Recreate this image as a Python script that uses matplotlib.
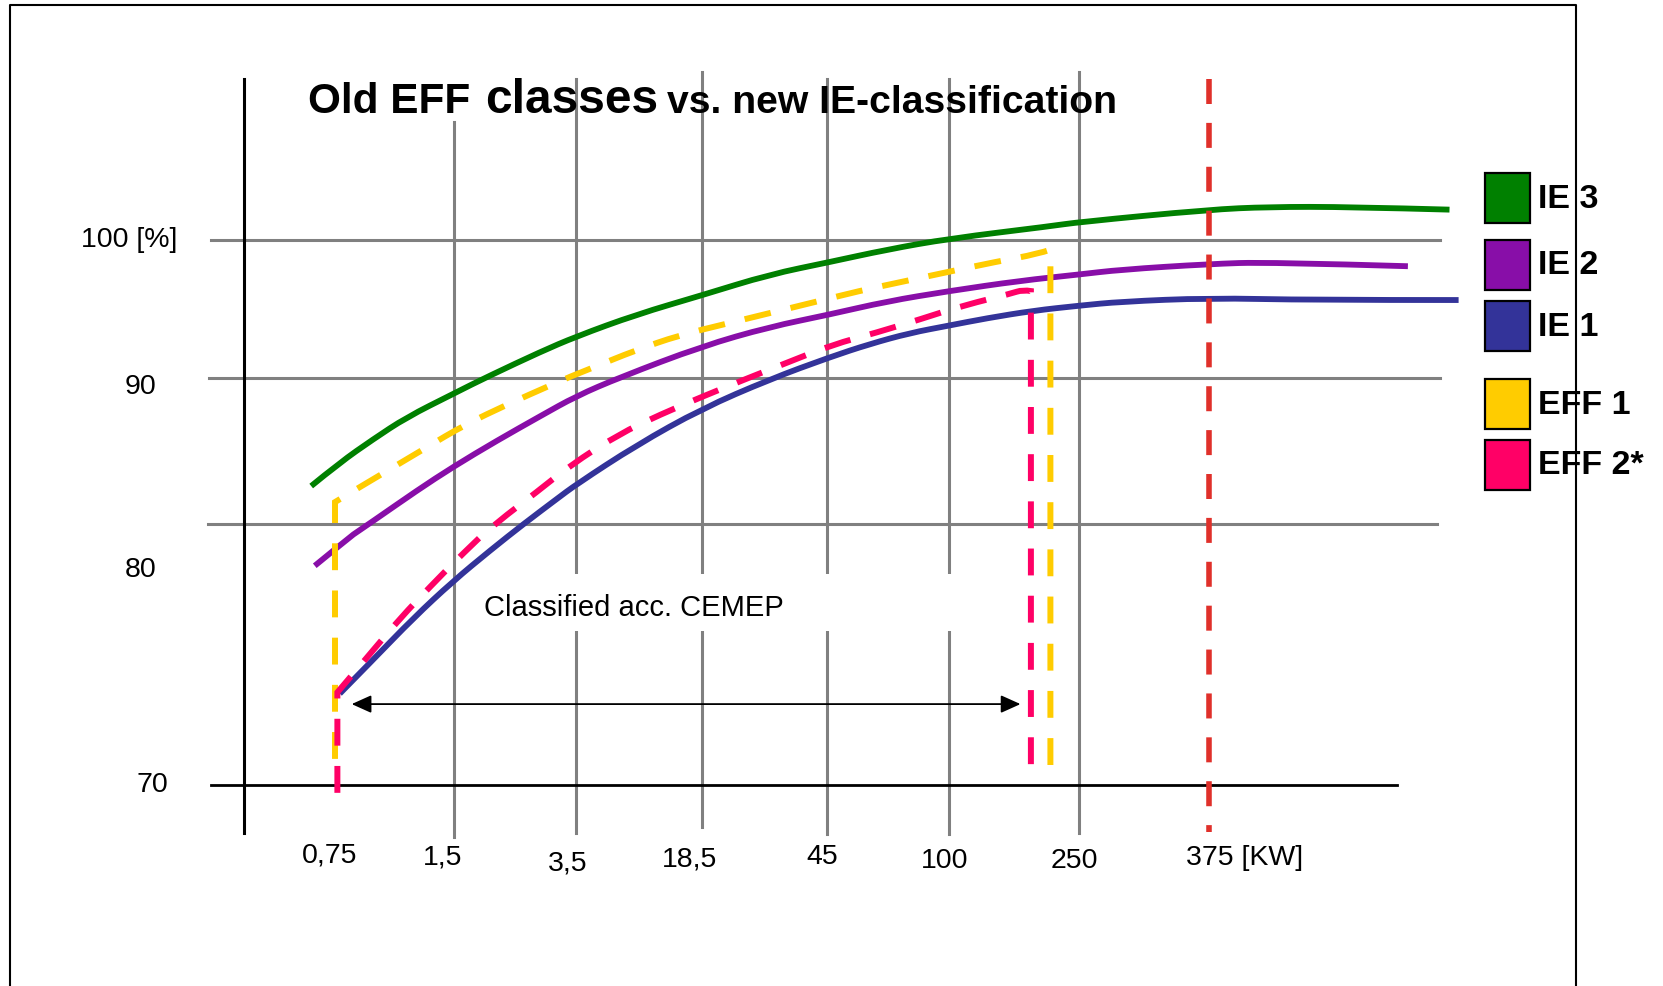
import numpy as np
import matplotlib
matplotlib.use("Agg")
import matplotlib.pyplot as plt
from matplotlib.patches import Rectangle, PathPatch
from matplotlib.lines import Line2D
from matplotlib.path import Path
from matplotlib.transforms import Affine2D

plt.rcParams['font.family'] = ['Liberation Sans', 'DejaVu Sans']

W, H = 1663, 987

# x axis: motor power classes (kW), drawn at category steps 0..7
kw_labels = ["0,75", "1,5", "3,5", "18,5", "45", "100", "250", "375 [KW]"]
eff_ticks = [100, 90, 80, 70]
eff_labels = ["100 [%]", "90", "80", "70"]

# efficiency curves, x in category steps, y in %
ie3_x = [-0.20, 0.04, 0.32, 0.60, 0.99, 1.30, 1.71, 2.0, 2.48, 3.0, 3.54, 4.02, 4.49,
         5.0, 5.78, 6.0, 7.0, 7.46, 8.09, 8.85]
ie3_y = [82.6, 84.2, 85.8, 87.3, 88.9, 90.2, 91.9, 93.0, 94.6, 96.0, 97.5, 98.4, 99.3,
         100.1, 101.0, 101.3, 102.2, 102.4, 102.4, 102.2]

ie2_x = [-0.17, -0.01, 0.32, 0.69, 0.99, 1.35, 1.71, 2.0, 2.35, 3.0, 3.54, 4.02, 4.49,
         5.0, 5.55, 6.0, 6.32, 7.0, 7.46, 8.53]
ie2_y = [78.4, 79.0, 80.2, 82.3, 83.9, 85.7, 87.4, 88.75, 90.05, 92.3, 93.7, 94.6, 95.55,
         96.3, 97.05, 97.5, 97.85, 98.26, 98.4, 98.1]

ie1_x = [0.04, 0.32, 0.66, 0.99, 1.30, 1.57, 1.84, 2.0, 2.48, 3.0, 3.54, 4.02, 4.35,
         4.68, 5.0, 5.29, 5.65, 6.0, 6.32, 7.0, 7.78, 8.92]
ie1_y = [73.5, 74.8, 76.4, 77.8, 79.0, 80.0, 81.7, 82.7, 85.4, 87.9, 89.9, 91.5, 92.46,
         93.26, 93.8, 94.33, 94.88, 95.24, 95.53, 95.8, 95.65, 95.65]

eff1_x = [0.0, 0.0, 0.10, 0.43, 0.76, 1.09, 1.44, 1.79, 2.12, 2.47, 2.82, 3.18, 3.54,
          3.90, 4.26, 4.63, 5.0, 5.35, 5.69, 5.78, 5.78]
eff1_y = [71.0, 81.5, 82.0, 83.6, 85.2, 86.8, 88.2, 89.5, 90.7, 92.0, 93.1, 93.9, 94.7,
          95.5, 96.3, 97.0, 97.7, 98.4, 99.0, 99.3, 70.2]

eff2_x = [0.02, 0.02, 0.29, 0.55, 0.80, 1.08, 1.35, 1.68, 1.95, 2.34, 2.67, 3.01, 3.35,
          3.70, 4.04, 4.41, 4.78, 5.13, 5.47, 5.57, 5.63, 5.63]
eff2_y = [69.7, 73.55, 75.0, 76.4, 77.6, 78.9, 80.1, 82.2, 84.0, 86.15, 87.5, 88.75, 89.93,
          91.18, 92.4, 93.3, 94.3, 95.3, 96.1, 96.4, 96.3, 70.3]

cemep_range = [0.14, 5.55]
cemep_level = 73.1

legend_names = ["IE 3", "IE 2", "IE 1", "EFF 1", "EFF 2*"]
legend_colors = ["#008000", "#880EA8", "#333399", "#FFCC00", "#FF0066"]

# ---- layout: piecewise scales so the schematic axis lines up
cat_idx = [-3, 0, 1, 2, 3, 4, 5, 6, 7, 11]
cat_px = [-22, 335, 454, 576, 702, 827, 949, 1079, 1209, 1729]
eff_nodes = [50, 70, 80, 90, 100, 125]
eff_up = [H - p for p in [1308, 786, 525, 379, 241, -104]]


def fx(v):
    return np.interp(v, cat_idx, cat_px)


def ix(p):
    return np.interp(p, cat_px, cat_idx)


def fy(v):
    return np.interp(v, eff_nodes, eff_up)


def iy(p):
    return np.interp(p, eff_up, eff_nodes)


def smooth_path(xs, ys, sharp=()):
    # rounded polyline: quadratic pieces through midpoints, corners kept where asked
    p = np.column_stack([xs, ys]).astype(float)
    n = len(p)
    verts, codes = [p[0]], [Path.MOVETO]
    at = p[0]
    for i in range(1, n - 1):
        if i in sharp:
            if not np.allclose(at, p[i]):
                verts.append(p[i])
                codes.append(Path.LINETO)
                at = p[i]
        else:
            if i + 1 in sharp or i + 1 == n - 1:
                end = p[i + 1]
            else:
                end = (p[i] + p[i + 1]) / 2
            verts += [p[i], end]
            codes += [Path.CURVE3, Path.CURVE3]
            at = end
    if not np.allclose(at, p[-1]):
        verts.append(p[-1])
        codes.append(Path.LINETO)
    return Path(verts, codes)


fig = plt.figure(figsize=(W / 100, H / 100), dpi=100)
ax = fig.add_axes([0, 0, 1, 1])
ax.set_xscale('function', functions=(fx, ix))
ax.set_yscale('function', functions=(fy, iy))
ax.set_xlim(ix(0), ix(W))
ax.set_ylim(iy(0), iy(H))
ax.set_axis_off()

# pixel coordinates, origin top-left
pix = Affine2D().scale(1 / W, -1 / H).translate(0, 1) + fig.transFigure

grey = "#808080"
# vertical grid lines at 1,5 ... 250
vtops = [123, 80, 73, 80, 80, 73]
vbots = [838, 834, 828, 835, 835, 834]
for i in range(1, 7):
    ax.axvline(i, ymin=1 - vbots[i - 1] / H, ymax=1 - vtops[i - 1] / H,
               color=grey, lw=2.2, zorder=1)
# horizontal grid lines
hspans = [(211, 1440), (209, 1440), (208, 1437)]
for val, (a, b) in zip(eff_ticks[:3], hspans):
    ax.axhline(val, xmin=a / W, xmax=b / W, color=grey, lw=2.2, zorder=1)
ax.axhline(eff_ticks[3], xmin=211 / W, xmax=1397 / W, color="black", lw=2.0, zorder=1.2)
ax.add_line(Line2D([244, 244], [80, 834], transform=pix, color="black", lw=2.2, zorder=1.2))

# white box behind the CEMEP note
ax.add_patch(Rectangle((462, 575), 538, 57, transform=pix, facecolor="white",
                       edgecolor="none", zorder=1.5))
ax.text(484, 608, "Classified acc. CEMEP", transform=pix, fontsize=21,
        ha="left", va="center", zorder=3)

lw = 4.2
for xs, ys, col in [(ie3_x, ie3_y, legend_colors[0]), (ie2_x, ie2_y, legend_colors[1]),
                    (ie1_x, ie1_y, legend_colors[2])]:
    ax.add_patch(PathPatch(smooth_path(xs, ys), fill=False, edgecolor=col, lw=lw,
                           capstyle="butt", joinstyle="round", zorder=2))
dash = (0, (4.5, 3.4))
ax.add_patch(PathPatch(smooth_path(eff1_x, eff1_y, sharp=(1, len(eff1_x) - 2)),
                       fill=False, edgecolor=legend_colors[3], lw=4.3, linestyle=dash,
                       capstyle="butt", joinstyle="miter", zorder=2.5))
ax.add_patch(PathPatch(smooth_path(eff2_x, eff2_y, sharp=(1, len(eff2_x) - 2)),
                       fill=False, edgecolor=legend_colors[4], lw=4.3, linestyle=dash,
                       capstyle="butt", joinstyle="miter", zorder=2.6))
# 375 kW limit
ax.axvline(7, ymin=1 - 80 / H, ymax=1 - 833 / H, color="#E0302A", lw=4.0,
           ls=dash, dash_capstyle="butt", zorder=2.8)

ax.annotate("", xy=(cemep_range[1], cemep_level), xytext=(cemep_range[0], cemep_level),
            arrowprops=dict(arrowstyle="<|-|>,head_length=1.0,head_width=0.45",
                            mutation_scale=12, lw=1.3, color="black",
                            shrinkA=0, shrinkB=0), zorder=3)

# tick labels
ylab_pos = [(128.8, 240), (141, 387), (141, 570), (152, 785)]
for s, (x, y) in zip(eff_labels, ylab_pos):
    fig.text(x, y, s, transform=pix, fontsize=20.5, ha="center", va="center")
xlab_pos = [(329.5, 855), (442.6, 857), (568, 863), (690, 860), (822.5, 857.5),
            (945, 861), (1074, 861), (1245, 858)]
for s, (x, y) in zip(kw_labels, xlab_pos):
    fig.text(x, y, s, transform=pix, fontsize=20.5, ha="center", va="center")

# title with a larger "classes"
renderer = fig.canvas.get_renderer()
x0 = 308
parts = [("Old EFF", 30.4, 15), ("classes", 34.5, 9), ("vs. new IE-classification", 28.2, 0)]
for s, size, gap in parts:
    t = fig.text(x0, 112.7, s, transform=pix, fontsize=size, fontweight="bold",
                 ha="left", va="baseline")
    x0 += t.get_window_extent(renderer).width + gap

# legend
box_tops = [174, 241, 302, 380, 441]
for name, col, top in zip(legend_names, legend_colors, box_tops):
    fig.add_artist(Rectangle((1485, top), 45, 50, transform=pix, facecolor=col,
                             edgecolor="black", lw=1.6, zorder=4))
    fig.text(1538, top + 25, name, transform=pix, fontsize=24.5, fontweight="bold",
             ha="left", va="center", zorder=4)

# outer frame (open at the bottom)
fig.add_artist(Line2D([9.5, 9.5, 1576, 1576], [995, 6, 6, 995], transform=pix,
                      color="black", lw=1.5, zorder=10))

fig.savefig("out.png", dpi=100)
